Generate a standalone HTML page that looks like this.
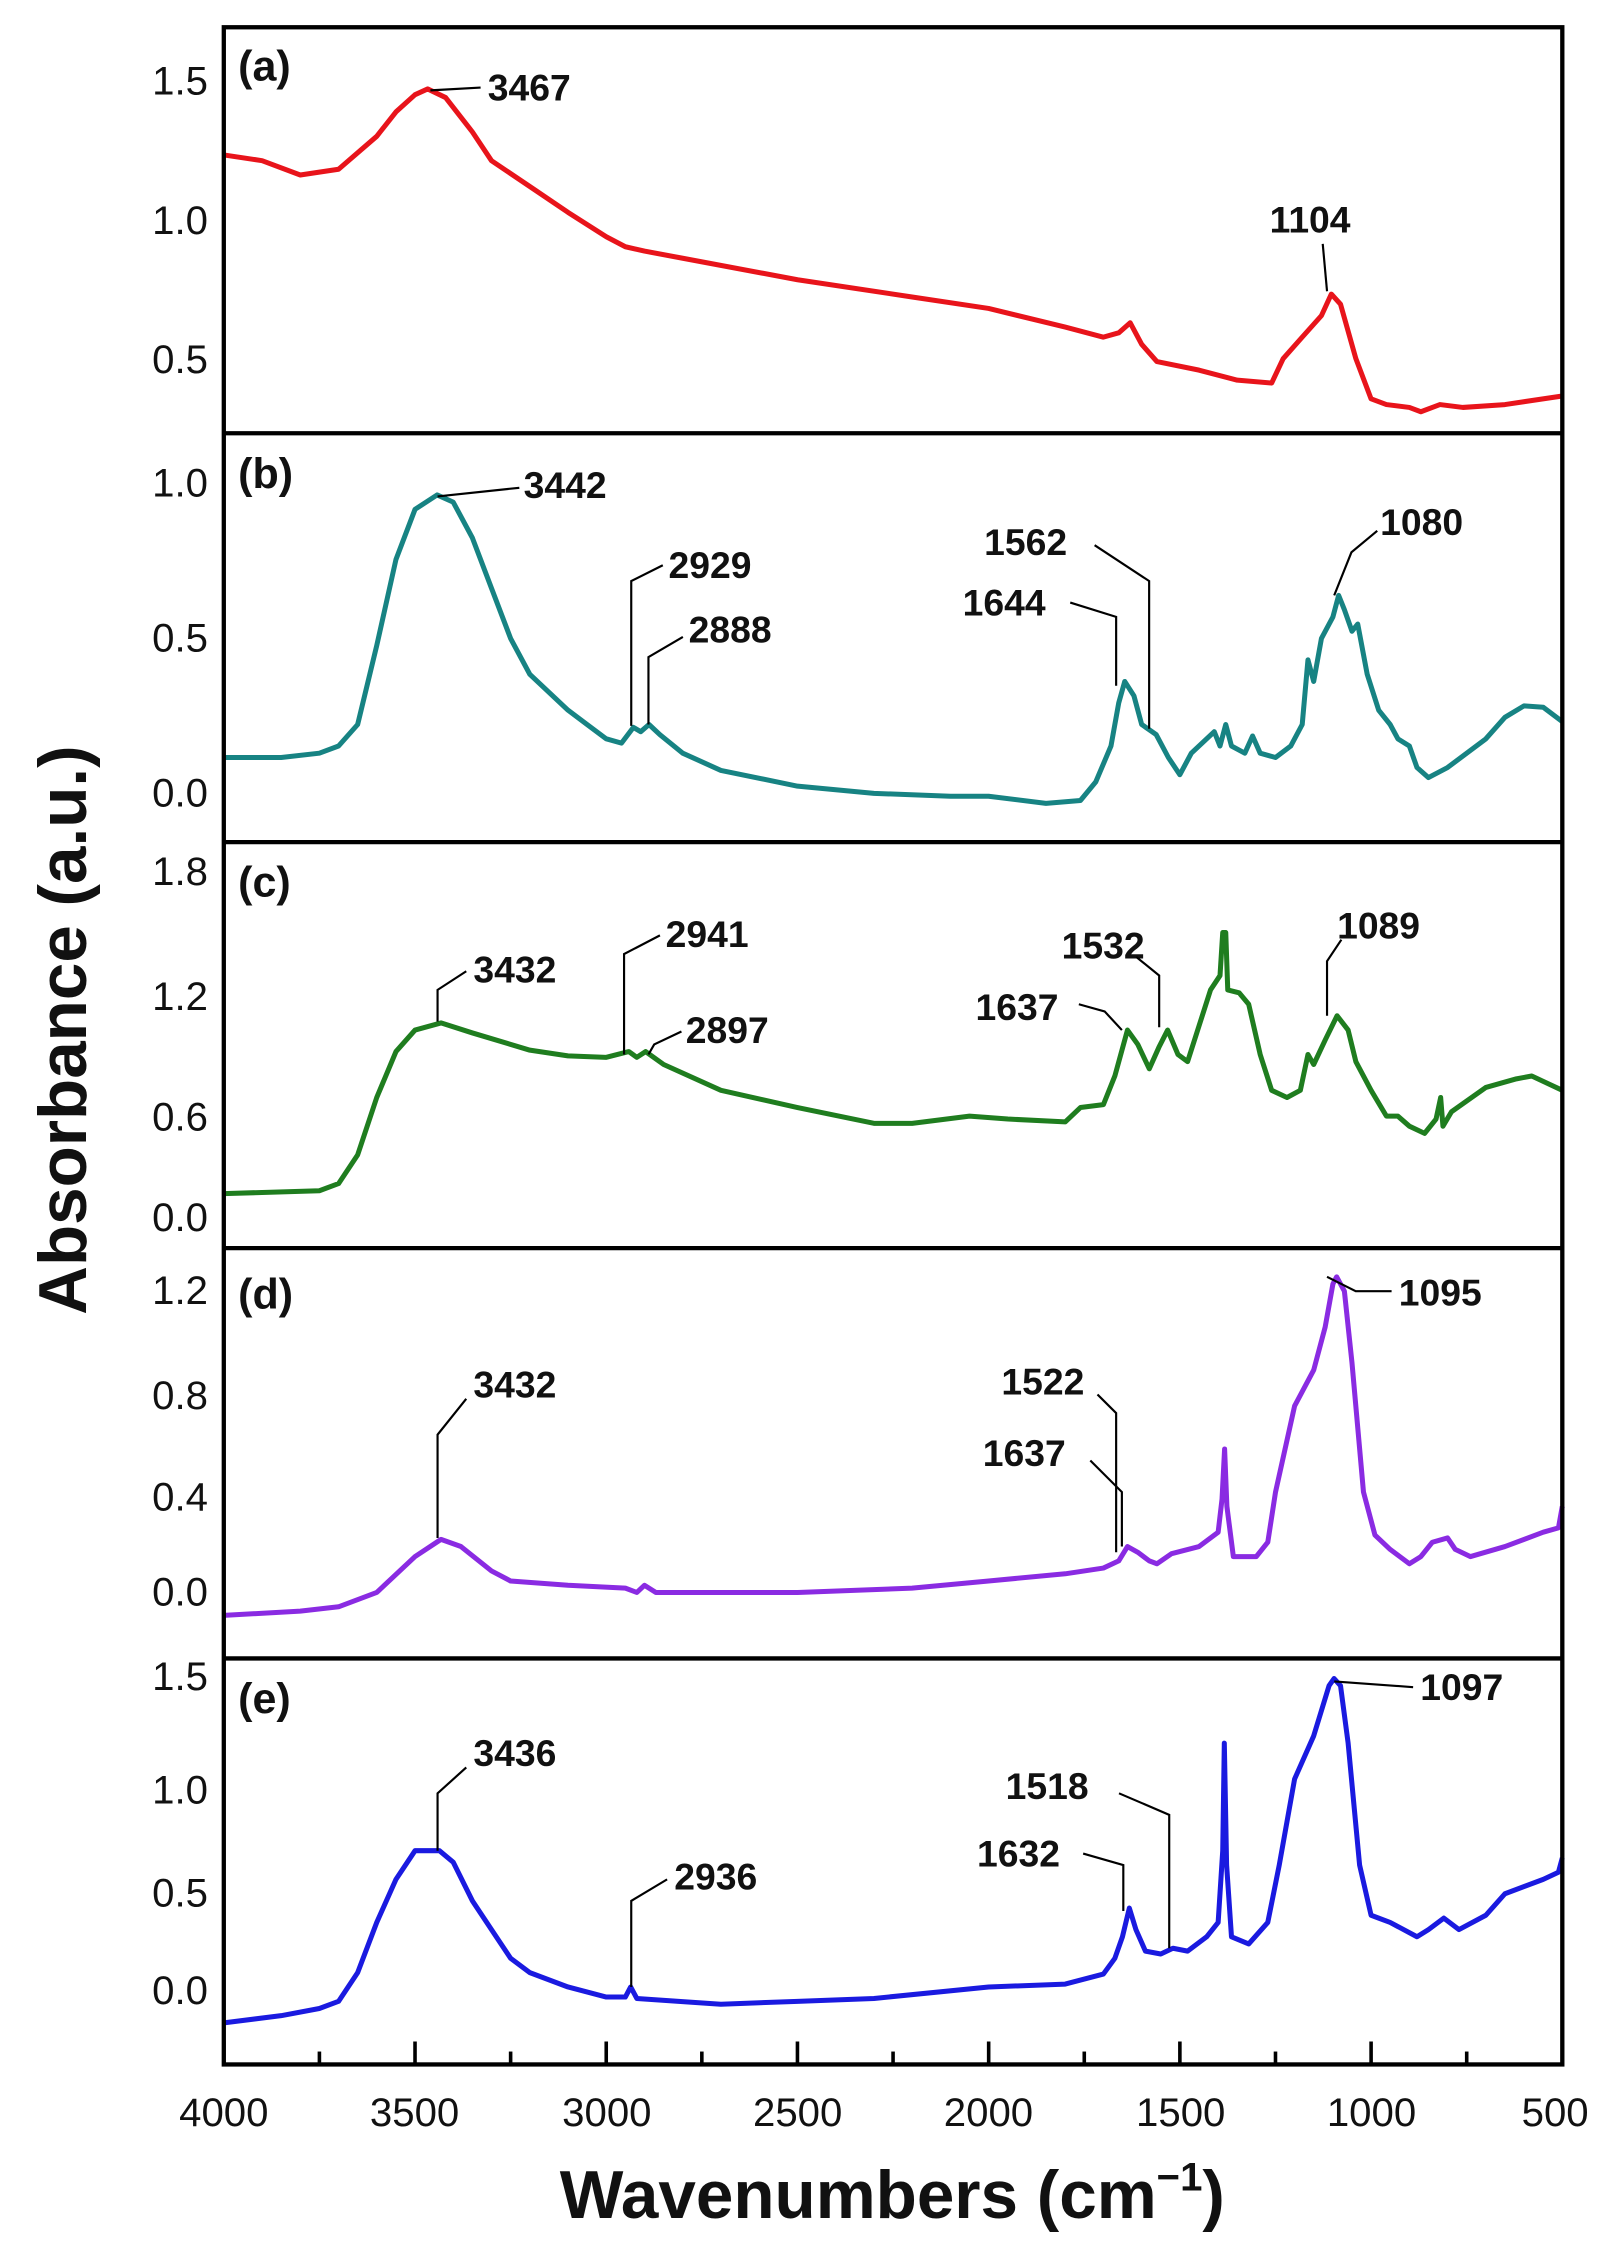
<!DOCTYPE html>
<html><head><meta charset="utf-8"><style>
html,body{margin:0;padding:0;background:#fff}
svg{display:block}
text{font-family:"Liberation Sans",Arial,sans-serif}
</style></head><body>
<svg id="s" width="1624" height="2261" viewBox="0 0 1132 1576" preserveAspectRatio="none" xmlns="http://www.w3.org/2000/svg">
<g id="curves" fill="none" stroke-width="3.5" stroke-linejoin="round"></g>
<g fill="none" stroke="#000" stroke-width="3">
<rect x="156" y="19" width="933" height="1420"/>
<line x1="156" y1="302" x2="1089" y2="302"/>
<line x1="156" y1="587" x2="1089" y2="587"/>
<line x1="156" y1="870" x2="1089" y2="870"/>
<line x1="156" y1="1156" x2="1089" y2="1156"/>
</g>
<g id="ticks" stroke="#000" stroke-width="2.5"></g>
<g font-size="28" text-anchor="end" fill="#111">
<text x="145" y="66">1.5</text><text x="145" y="163">1.0</text><text x="145" y="260">0.5</text>
<text x="145" y="346">1.0</text><text x="145" y="454">0.5</text><text x="145" y="562">0.0</text>
<text x="145" y="617">1.8</text><text x="145" y="704">1.2</text><text x="145" y="788">0.6</text><text x="145" y="858">0.0</text>
<text x="145" y="909">1.2</text><text x="145" y="982">0.8</text><text x="145" y="1053">0.4</text><text x="145" y="1119">0.0</text>
<text x="145" y="1178">1.5</text><text x="145" y="1257">1.0</text><text x="145" y="1329">0.5</text><text x="145" y="1397">0.0</text>
</g>
<g font-size="28" text-anchor="middle" fill="#111">
<text x="156" y="1482">4000</text><text x="289" y="1482">3500</text><text x="423" y="1482">3000</text><text x="556" y="1482">2500</text><text x="689" y="1482">2000</text><text x="823" y="1482">1500</text><text x="956" y="1482">1000</text><text x="1084" y="1482">500</text>
</g>
<text x="622" y="1546" font-size="47" font-weight="bold" text-anchor="middle" fill="#111">Wavenumbers (cm<tspan font-size="28" dy="-19">−1</tspan><tspan dy="19">)</tspan></text>
<text transform="translate(60,718) rotate(-90)" font-size="47" font-weight="bold" text-anchor="middle" fill="#111">Absorbance (a.u.)</text>
<g font-size="30" font-weight="bold" fill="#111">
<text x="166" y="56">(a)</text><text x="166" y="340">(b)</text><text x="166" y="625">(c)</text><text x="166" y="912">(d)</text><text x="166" y="1194">(e)</text>
</g>
<g font-size="26" font-weight="bold" fill="#111">
<text x="340" y="70">3467</text><text x="885" y="162">1104</text>
<text x="365" y="347">3442</text><text x="466" y="403">2929</text><text x="480" y="448">2888</text><text x="671" y="429">1644</text><text x="686" y="387">1562</text><text x="962" y="373">1080</text>
<text x="330" y="685">3432</text><text x="464" y="660">2941</text><text x="478" y="727">2897</text><text x="680" y="711">1637</text><text x="740" y="668">1532</text><text x="932" y="654">1089</text>
<text x="330" y="974">3432</text><text x="698" y="972">1522</text><text x="685" y="1022">1637</text><text x="975" y="910">1095</text>
<text x="330" y="1231">3436</text><text x="470" y="1317">2936</text><text x="701" y="1254">1518</text><text x="681" y="1301">1632</text><text x="990" y="1185">1097</text>
</g>
<g fill="none" stroke="#000" stroke-width="1.5">
<polyline points="300,63 335,61"/><polyline points="925,203 922,170"/>
<polyline points="305,346 362,340"/><polyline points="440,506 440,405 462,394"/><polyline points="452,505 452,458 476,444"/><polyline points="778,478 778,430 746,420"/><polyline points="801,508 801,405 763,380"/><polyline points="930,415 942,385 960,370"/>
<polyline points="305,712 305,690 325,677"/><polyline points="435,735 435,665 460,652"/><polyline points="452,735 456,728 475,719"/><polyline points="782,718 770,705 752,700"/><polyline points="808,716 808,680 792,667"/><polyline points="925,708 925,670 935,655"/>
<polyline points="305,1072 305,1000 325,975"/><polyline points="778,1082 778,985 765,972"/><polyline points="782,1078 782,1040 760,1018"/><polyline points="925,890 945,900 970,900"/>
<polyline points="305,1290 305,1250 325,1232"/><polyline points="440,1385 440,1325 465,1310"/><polyline points="815,1358 815,1265 780,1250"/><polyline points="783,1332 783,1300 755,1292"/><polyline points="930,1172 985,1176"/>
</g>
</svg>
<script>
var X=function(w){return 156+(4000-w)*933/3500;};
var D=[
["#e8141b",[4000,108,3900,112,3800,122,3750,120,3700,118,3600,95,3550,78,3500,66,3467,62,3420,68,3350,92,3300,112,3200,130,3100,148,3000,165,2950,172,2900,175,2800,180,2500,195,2200,207,2000,215,1800,228,1700,235,1660,232,1630,225,1600,240,1560,252,1450,258,1350,265,1260,267,1230,250,1180,235,1130,220,1104,205,1080,212,1040,250,1000,278,960,282,900,284,870,287,820,282,760,284,650,282,500,276]],
["#178383",[4000,528,3850,528,3750,525,3700,520,3650,505,3600,450,3550,390,3500,355,3442,345,3400,350,3350,375,3300,410,3250,445,3200,470,3100,495,3050,505,3000,515,2960,518,2929,507,2910,510,2888,505,2860,512,2800,525,2700,537,2500,548,2300,553,2100,555,2000,555,1850,560,1760,558,1720,545,1680,520,1660,490,1644,475,1620,485,1600,505,1562,512,1530,528,1500,540,1470,525,1430,515,1410,510,1395,520,1380,505,1365,520,1330,525,1310,513,1290,525,1250,528,1210,520,1180,505,1165,460,1150,475,1130,445,1100,430,1085,415,1070,425,1050,440,1035,435,1010,470,980,495,950,505,930,515,900,520,880,535,850,542,800,535,700,515,650,500,600,492,550,493,500,503]],
["#1f7d1f",[4000,832,3750,830,3700,825,3650,805,3600,765,3550,733,3500,718,3432,713,3350,720,3200,732,3100,736,3000,737,2941,733,2920,737,2897,733,2850,742,2700,760,2500,772,2300,783,2200,783,2050,778,1950,780,1800,782,1760,772,1700,770,1670,750,1637,718,1610,728,1580,745,1555,730,1532,718,1505,735,1480,740,1450,715,1420,690,1395,680,1388,650,1380,650,1375,690,1345,692,1320,700,1290,735,1260,760,1220,765,1185,760,1165,735,1150,742,1120,725,1089,708,1060,718,1040,740,1000,760,960,778,930,778,900,785,860,790,830,780,818,765,812,785,790,775,700,758,620,752,580,750,540,755,500,760]],
["#8a2be2",[4000,1126,3800,1123,3700,1120,3600,1110,3500,1085,3432,1073,3380,1078,3300,1095,3250,1102,3100,1105,2950,1107,2920,1110,2900,1105,2870,1110,2800,1110,2500,1110,2200,1107,2000,1102,1800,1097,1700,1093,1660,1088,1637,1078,1610,1082,1580,1088,1560,1090,1522,1083,1450,1078,1400,1068,1390,1045,1383,1010,1377,1050,1360,1085,1300,1085,1270,1075,1250,1040,1200,980,1150,955,1120,925,1100,895,1090,890,1070,900,1050,950,1020,1040,990,1070,950,1080,900,1090,870,1085,840,1075,800,1072,780,1080,740,1085,650,1078,550,1068,510,1065,500,1050]],
["#1a1ae0",[4000,1410,3850,1405,3750,1400,3700,1395,3650,1375,3600,1340,3550,1310,3500,1290,3436,1290,3400,1298,3350,1325,3300,1345,3250,1365,3200,1375,3100,1385,3000,1392,2950,1392,2936,1385,2920,1393,2700,1397,2500,1395,2300,1393,2000,1385,1800,1383,1700,1376,1670,1365,1650,1350,1632,1330,1615,1345,1590,1360,1550,1362,1518,1358,1480,1360,1430,1350,1400,1340,1388,1290,1384,1215,1378,1300,1365,1350,1320,1355,1270,1340,1240,1300,1200,1240,1150,1210,1110,1175,1097,1170,1080,1175,1060,1215,1030,1300,1000,1335,980,1337,950,1340,880,1350,850,1345,810,1337,770,1345,700,1335,650,1320,550,1310,510,1305,500,1295]]
];
var g=document.getElementById('curves'),h='';
D.forEach(function(c){var p=c[1],s='';for(var i=0;i<p.length;i+=2)s+=X(p[i]).toFixed(1)+','+p[i+1]+' ';h+='<polyline stroke="'+c[0]+'" points="'+s+'"/>';});
g.innerHTML=h;
var t='';for(var w=4000;w>=500;w-=250){var x=X(w),L=(w%500==0)?16:9;t+='<line x1="'+x+'" y1="1439" x2="'+x+'" y2="'+(1439-L)+'"/>';}
document.getElementById('ticks').innerHTML=t;
</script>
</body></html>
